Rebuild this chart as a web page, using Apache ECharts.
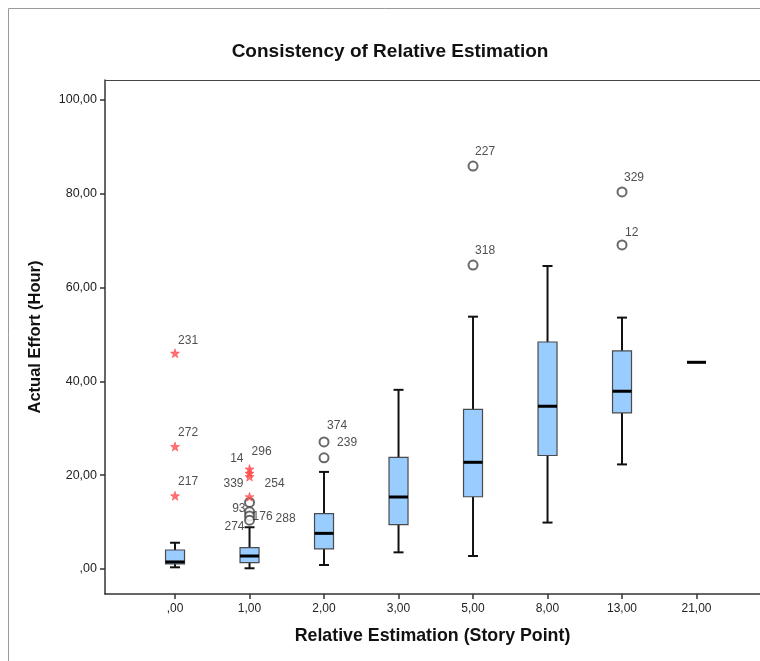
<!DOCTYPE html>
<html>
<head>
<meta charset="utf-8">
<script src="https://cdn.jsdelivr.net/npm/echarts@6/dist/echarts.min.js"></script>
<style>html,body{margin:0;padding:0;background:#fff;}#chart{width:760px;height:661px;}</style>
</head>
<body>
<div id="chart"></div>
<script>
// ---- data ----
const categories = [',00', '1,00', '2,00', '3,00', '5,00', '8,00', '13,00', '21,00'];
const whiskerLow  = [0.36, 0.15, 0.85, 3.55, 2.77, 9.9, 22.3, 44.07];
const q1          = [1.07, 1.34, 4.3, 9.45, 15.4, 24.2, 33.3, 44.07];
const medians     = [1.5, 2.77, 7.6, 15.35, 22.75, 34.7, 37.9, 44.07];
const q3          = [4.05, 4.54, 11.8, 23.8, 34.05, 48.4, 46.5, 44.07];
const whiskerHigh = [5.6, 8.9, 20.7, 38.2, 53.8, 64.6, 53.6, 44.07];

const outlierIds  = ['231', '272', '217', '14', '296', '339', '254', '93', '176', '288', '274', '374', '239', '227', '318', '329', '12'];
const outlierCat  = [0, 0, 0, 1, 1, 1, 1, 1, 1, 1, 1, 2, 2, 4, 4, 6, 6];
const outlierVal  = [46.0, 26.1, 15.6, 21.3, 20.4, 19.7, 15.4, 14.2, 12.2, 11.3, 10.4, 27.1, 23.7, 85.9, 64.8, 80.4, 69.1];
const outlierKind = ['extreme', 'extreme', 'extreme', 'extreme', 'extreme', 'extreme', 'extreme',
                     'outlier', 'outlier', 'outlier', 'outlier', 'outlier', 'outlier', 'outlier', 'outlier', 'outlier', 'outlier'];

const yTickValues = [0, 20, 40, 60, 80, 100];
const yTickLabels = [',00', '20,00', '40,00', '60,00', '80,00', '100,00'];
const xTickValues = [0, 1, 2, 3, 4, 5, 6, 7];

// ---- styling (label placement relative to point, px) ----
const labelPlace = {
  '231': [3, -13, 'left'], '272': [3, -14, 'left'], '217': [3, -14, 'left'],
  '14': [-6, -10, 'right'], '296': [2, -22, 'left'], '339': [-6, 7, 'right'], '254': [15, -13, 'left'],
  '93': [-4, 6, 'right'], '176': [3, 5, 'left'], '288': [26, 3, 'left'], '274': [-5, 6, 'right'],
  '374': [3, -16, 'left'], '239': [13, -15, 'left'],
  '227': [2, -14, 'left'], '318': [2, -14, 'left'], '329': [2, -14, 'left'], '12': [3, -12, 'left']
};
const FONT = '"Liberation Sans", Arial, sans-serif';
const starPath = 'path://M0,-10 L2.35,-3.24 L9.51,-3.09 L3.8,1.24 L5.88,8.09 L0,4 L-5.88,8.09 L-3.8,1.24 L-9.51,-3.09 L-2.35,-3.24 Z';

const boxData = categories.map((c, i) => [i, whiskerLow[i], q1[i], medians[i], q3[i], whiskerHigh[i]]);

function mkPoints(kind) {
  const arr = [];
  outlierIds.forEach((id, k) => {
    if (outlierKind[k] !== kind) return;
    const p = labelPlace[id];
    arr.push({
      value: [outlierCat[k], outlierVal[k]],
      label: {
        show: true, formatter: id, position: 'inside',
        align: p[2], verticalAlign: 'middle', offset: [p[0], p[1]],
        color: '#222', fontSize: 12, fontFamily: FONT
      }
    });
  });
  return arr;
}

const chart = echarts.init(document.getElementById('chart'), null, { renderer: 'canvas' });
chart.setOption({
  animation: false,
  backgroundColor: '#fff',
  title: {
    text: 'Consistency of Relative Estimation',
    left: 385, top: 37, textAlign: 'center',
    textStyle: { fontFamily: FONT, fontWeight: 'bold', fontSize: 19, color: '#111' }
  },
  graphic: [
    { type: 'rect', shape: { x: 8.5, y: 8.5, width: 800, height: 700 },
      style: { fill: 'none', stroke: '#9a9a9a', lineWidth: 1 }, silent: true, z: -10 },
    { type: 'line', shape: { x1: 105, y1: 80.5, x2: 760, y2: 80.5 },
      style: { stroke: '#444', lineWidth: 1.2 }, silent: true, z: 1 }
  ],
  grid: { left: 105, top: 80, right: 0, bottom: 67, show: false },
  xAxis: {
    type: 'value', min: -0.94, max: 7.852,
    name: 'Relative Estimation (Story Point)', nameLocation: 'middle', nameGap: 33,
    nameTextStyle: { fontFamily: FONT, fontWeight: 'bold', fontSize: 17.8, color: '#111' },
    axisLine: { show: true, onZero: false, lineStyle: { color: '#333', width: 1.5 } },
    axisTick: { show: true, length: 5, customValues: xTickValues, lineStyle: { color: '#333', width: 1.5 } },
    axisLabel: {
      customValues: xTickValues, margin: 9,
      formatter: v => categories[Math.round(v)],
      fontFamily: FONT, fontSize: 12, color: '#222'
    },
    splitLine: { show: false }
  },
  yAxis: {
    type: 'value', min: -5.33, max: 104.26,
    name: 'Actual Effort (Hour)', nameLocation: 'middle', nameGap: 61,
    nameTextStyle: { fontFamily: FONT, fontWeight: 'bold', fontSize: 16.5, color: '#111' },
    axisLine: { show: true, onZero: false, lineStyle: { color: '#333', width: 1.5 } },
    axisTick: { show: true, length: 5, customValues: yTickValues, lineStyle: { color: '#333', width: 1.5 } },
    axisLabel: {
      customValues: yTickValues, margin: 8,
      formatter: v => yTickLabels[yTickValues.indexOf(Math.round(v))],
      fontFamily: FONT, fontSize: 12.5, color: '#222'
    },
    splitLine: { show: false }
  },
  series: [
    {
      type: 'custom',
      data: boxData,
      encode: { x: 0, y: [1, 2, 3, 4, 5] },
      renderItem: function (params, api) {
        const i = api.value(0);
        const x = api.coord([i, 0])[0];
        const yLow = api.coord([i, api.value(1)])[1];
        const yQ1 = api.coord([i, api.value(2)])[1];
        const yMed = api.coord([i, api.value(3)])[1];
        const yQ3 = api.coord([i, api.value(4)])[1];
        const yHigh = api.coord([i, api.value(5)])[1];
        const hb = 9.5, hc = 5;
        const wl = { stroke: '#111', lineWidth: 2 };
        const children = [];
        if (yHigh < yQ3) {
          children.push({ type: 'line', shape: { x1: x, y1: yHigh, x2: x, y2: yQ3 }, style: wl });
          children.push({ type: 'line', shape: { x1: x - hc, y1: yHigh, x2: x + hc, y2: yHigh }, style: wl });
        }
        if (yLow > yQ1) {
          children.push({ type: 'line', shape: { x1: x, y1: yQ1, x2: x, y2: yLow }, style: wl });
          children.push({ type: 'line', shape: { x1: x - hc, y1: yLow, x2: x + hc, y2: yLow }, style: wl });
        }
        if (yQ1 - yQ3 > 0.5) {
          children.push({ type: 'rect', shape: { x: x - hb, y: yQ3, width: hb * 2, height: yQ1 - yQ3 },
            style: { fill: '#99ccff', stroke: '#4a4a4a', lineWidth: 1.2 } });
        }
        children.push({ type: 'line', shape: { x1: x - hb, y1: yMed, x2: x + hb, y2: yMed },
          style: { stroke: '#000', lineWidth: 3 } });
        return { type: 'group', children: children };
      },
      z: 3
    },
    {
      type: 'scatter', name: 'outliers',
      data: mkPoints('outlier'),
      symbol: 'emptyCircle', symbolSize: 9,
      itemStyle: { color: '#444', borderColor: '#444', borderWidth: 1.3 },
      z: 4
    },
    {
      type: 'scatter', name: 'extremes',
      data: mkPoints('extreme'),
      symbol: starPath, symbolSize: 9,
      itemStyle: { color: '#ff5050', borderColor: '#ff3030', borderWidth: 0.6 },
      z: 5
    }
  ]
});
</script>
</body>
</html>
